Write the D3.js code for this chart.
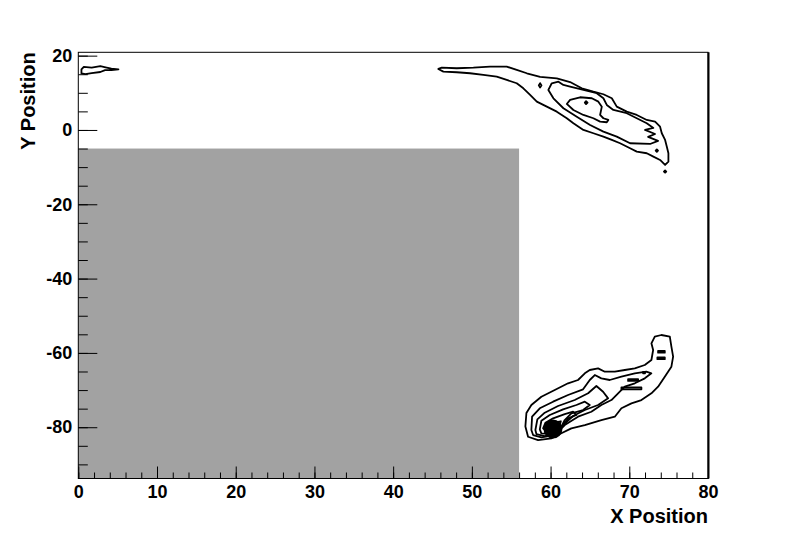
<!DOCTYPE html>
<html><head><meta charset="utf-8">
<script src="https://cdn.jsdelivr.net/npm/d3@7"></script>
<style>body{margin:0;background:#fff}</style>
</head><body>
<svg id="chart" width="788" height="533"></svg>
<script>
// ---- data ----
const xDomain = [0, 80];
const yDomain = [-93.8, 20.9];
const xMajorTicks = [0, 10, 20, 30, 40, 50, 60, 70, 80];
const xMinorTicks = d3.range(0, 81, 2);
const yMajorTicks = [20, 0, -20, -40, -60, -80];
const yMinorTicks = d3.range(-90, 21, 5);
const xTitle = "X Position";
const yTitle = "Y Position";

// shaded (excluded) region: x from 0 to 56, y from -5 down to the bottom
const shadedRegion = { x0: 0, x1: 56, yTop: -5 };

// contour rings, [x, y] in data units
const cornerRings = [
  [[0.4,16.3],[0.7,17.0],[1.7,16.8],[2.8,17.2],[3.6,16.8],[4.2,16.5],[5.1,16.3],[4.2,16.1],[3.4,16.1],[2.8,15.6],[1.7,15.3],[0.9,15.0],[0.4,15.2]]
];

const upperRings = [
  [[45.74,16.42],[46.18,16.77],[48.08,16.61],[50.19,16.77],[52.31,17.04],[54.43,17.04],[55.7,16.15],[56.98,15.26],[58.67,14.3],[60.79,13.9],[62.48,12.9],[63.96,11.22],[65.44,10.31],[66.71,9.61],[67.78,8.53],[68.41,6.27],[69.68,4.93],[70.95,4.04],[72.22,2.69],[73.28,2.23],[73.91,0.89],[74.13,-0.89],[74.55,-2.69],[74.77,-4.5],[74.97,-6.27],[74.97,-8.53],[74.55,-9.42],[73.91,-8.08],[73.06,-7.19],[72.22,-6.27],[70.95,-5.84],[70.1,-4.93],[68.83,-3.58],[67.78,-2.69],[66.71,-1.8],[65.44,-0.89],[64.17,0],[62.9,1.8],[62.06,3.15],[60.79,4.93],[59.52,6.27],[58.25,7.62],[57.4,9.42],[56.54,11.22],[55.7,12.57],[54.43,13.46],[53.16,14.35],[51.46,14.8],[49.77,15.26],[48.08,15.53],[46.38,15.69]],
  [[59.72,10.77],[60.15,12.57],[61.0,13.0],[61.63,12.11],[62.48,11.66],[64.17,10.77],[65.87,9.88],[66.71,8.53],[67.14,6.73],[67.98,5.38],[69.68,4.5],[70.95,3.15],[72.22,1.8],[73.06,0.54],[72.0,0],[73.28,-1.08],[72.39,-1.88],[73.66,-2.96],[72.64,-3.77],[70.1,-3.58],[68.41,-1.8],[66.71,-0.46],[65.02,1.35],[63.33,3.58],[61.63,5.84],[60.36,8.53]],
  [[62.06,7.0],[62.48,8.08],[63.75,8.8],[65.24,8.53],[66.07,7.62],[66.51,6.27],[66.29,4.04],[66.71,3.15],[67.34,2.69],[67.14,2.07],[66.29,2.23],[65.44,3.15],[64.17,4.04],[62.9,5.38]],
  [[58.5,12.0],[58.67,12.6],[58.85,12.0],[58.67,11.4]],
  [[64.35,7.35],[64.51,7.75],[64.7,7.35],[64.51,6.95]],
  [[73.35,-5.57],[73.5,-5.25],[73.65,-5.57],[73.5,-5.9]],
  [[74.4,-11.2],[74.55,-10.9],[74.7,-11.2],[74.55,-11.5]]
];

const lowerRings = [
  [[56.8,-79.79],[56.93,-76.18],[57.56,-74.02],[58.83,-71.79],[60.53,-69.99],[62.22,-68.18],[63.49,-67.29],[64.35,-65.49],[64.98,-64.6],[66.04,-64.15],[66.89,-65.06],[68.16,-65.06],[69.43,-64.6],[70.7,-64.15],[71.97,-63.26],[72.81,-61.91],[73.03,-59.22],[72.81,-57.42],[73.24,-55.64],[74.08,-55.18],[75.15,-55.64],[75.35,-58.33],[75.57,-61.02],[75.35,-63.71],[74.51,-66.41],[73.66,-69.1],[72.81,-70.87],[71.54,-72.68],[70.27,-73.57],[69.0,-74.91],[68.16,-77.17],[66.45,-78.06],[64.35,-79.41],[62.64,-80.3],[61.37,-81.64],[60.1,-82.99],[58.41,-83.45],[57.14,-82.56]],
  [[57.56,-80.75],[57.65,-77.17],[58.63,-74.91],[60.32,-73.13],[62.22,-71.33],[64.13,-69.8],[64.98,-67.29],[65.62,-65.95],[66.45,-66.84],[67.52,-67.29],[69.0,-66.41],[70.7,-65.49],[72.17,-65.06],[72.81,-65.49],[71.97,-66.84],[70.7,-68.18],[69.43,-69.1],[68.58,-70.87],[67.73,-72.68],[66.45,-74.02],[65.18,-75.83],[63.49,-77.17],[61.8,-79.41],[60.53,-82.1],[58.83,-82.72],[57.78,-82.1]],
  [[58.07,-80.75],[58.32,-77.87],[59.26,-76.09],[60.95,-74.29],[63.07,-72.68],[64.77,-70.87],[65.82,-68.91],[66.67,-70.44],[67.31,-72.23],[66.04,-74.02],[64.35,-75.37],[62.86,-76.98],[61.59,-79.41],[60.86,-81.64],[59.26,-82.37],[58.2,-81.83]],
  [[58.63,-80.57],[58.83,-78.25],[59.9,-76.72],[61.59,-75.18],[63.28,-74.02],[64.35,-73.13],[64.98,-74.02],[64.13,-75.37],[62.64,-76.26],[61.8,-78.06],[61.17,-80.75],[60.1,-81.83],[58.83,-81.64]],
  [[59.05,-80.3],[59.34,-78.79],[60.32,-77.6],[61.8,-76.45],[62.86,-75.83],[63.28,-76.72],[62.22,-77.6],[61.59,-79.41],[60.95,-81.2],[59.68,-81.47]],
  [[59.47,-80.1],[59.77,-79.2],[60.53,-78.7],[61.3,-78.4],[61.2,-79.2],[60.6,-80.3],[59.9,-80.6]],
  [[73.66,-59.45],[74.51,-59.45],[74.51,-59.95],[73.66,-59.95]],
  [[73.57,-61.2],[74.51,-61.2],[74.51,-61.7],[73.57,-61.7]],
  [[69.85,-67.05],[71.12,-67.05],[71.12,-67.55],[69.85,-67.55]],
  [[69.0,-69.3],[71.54,-69.3],[71.54,-69.8],[69.0,-69.8]],
  [[71.75,-65.1],[72.0,-65.1],[72.0,-65.5],[71.75,-65.5]]
];

const peakMarker = [60.3, -80.5];

// ---- drawing ----
const W = 788, H = 533;
const plot = { left: 78.3, right: 708, top: 52.3, bottom: 478.5 };
const FONT = "'Liberation Sans', Arial, Helvetica, sans-serif";

const svg = d3.select("#chart");
svg.append("rect").attr("width", W).attr("height", H).attr("fill", "#ffffff");

const x = d3.scaleLinear().domain(xDomain).range([plot.left, plot.right]);
const y = d3.scaleLinear().domain(yDomain).range([plot.bottom, plot.top]);

svg.append("clipPath").attr("id", "clip").append("rect")
  .attr("x", plot.left).attr("y", plot.top)
  .attr("width", plot.right - plot.left).attr("height", plot.bottom - plot.top);

// shaded region
svg.append("rect")
  .attr("x", x(shadedRegion.x0))
  .attr("y", y(shadedRegion.yTop))
  .attr("width", x(shadedRegion.x1) - x(shadedRegion.x0))
  .attr("height", y(yDomain[0]) - y(shadedRegion.yTop))
  .attr("fill", "#a2a2a2");

// contours
const ringLine = d3.line().x(d => x(d[0])).y(d => y(d[1])).curve(d3.curveLinearClosed);
const g = svg.append("g").attr("clip-path", "url(#clip)");
g.selectAll("path.contour")
  .data([...cornerRings, ...upperRings, ...lowerRings])
  .join("path")
  .attr("class", "contour")
  .attr("d", ringLine)
  .attr("fill", "none")
  .attr("stroke", "#000")
  .attr("stroke-width", 1.8)
  .attr("stroke-linejoin", "round");

g.append("circle")
  .attr("cx", x(peakMarker[0])).attr("cy", y(peakMarker[1]))
  .attr("r", 9.5).attr("fill", "#000");

// axes
function styleAxis(sel) {
  sel.select(".domain").remove();
  sel.selectAll("line").attr("stroke", "#000").attr("stroke-width", 1);
  sel.selectAll("text").attr("fill", "#000").attr("font-family", FONT)
    .attr("font-weight", "bold").attr("font-size", 18);
}

svg.append("g").attr("transform", `translate(0,${plot.bottom})`)
  .call(d3.axisBottom(x).tickValues(xMinorTicks).tickSize(-6).tickFormat(""))
  .call(styleAxis);
svg.append("g").attr("transform", `translate(0,${plot.bottom})`)
  .call(d3.axisBottom(x).tickValues(xMajorTicks).tickSize(-12).tickPadding(7).tickFormat(d3.format("d")))
  .call(styleAxis);

svg.append("g").attr("transform", `translate(${plot.left},0)`)
  .call(d3.axisLeft(y).tickValues(yMinorTicks).tickSize(-9.5).tickFormat(""))
  .call(styleAxis);
svg.append("g").attr("transform", `translate(${plot.left},0)`)
  .call(d3.axisLeft(y).tickValues(yMajorTicks).tickSize(-19).tickPadding(6).tickFormat(d => d3.format("d")(d).replace("−", "-")))
  .call(styleAxis);

// frame
svg.append("rect")
  .attr("x", plot.left).attr("y", plot.top)
  .attr("width", plot.right - plot.left).attr("height", plot.bottom - plot.top)
  .attr("fill", "none").attr("stroke", "#000").attr("stroke-width", 1);
svg.append("line")
  .attr("x1", plot.right + 0.5).attr("x2", plot.right + 0.5)
  .attr("y1", plot.top).attr("y2", plot.bottom)
  .attr("stroke", "#000").attr("stroke-width", 2);

// titles
svg.append("text")
  .attr("x", plot.right).attr("y", 523)
  .attr("text-anchor", "end")
  .attr("font-family", FONT).attr("font-weight", "bold").attr("font-size", 20)
  .text(xTitle);
svg.append("text")
  .attr("transform", `translate(35,${plot.top}) rotate(-90)`)
  .attr("text-anchor", "end")
  .attr("font-family", FONT).attr("font-weight", "bold").attr("font-size", 20)
  .text(yTitle);
</script>
</body></html>
